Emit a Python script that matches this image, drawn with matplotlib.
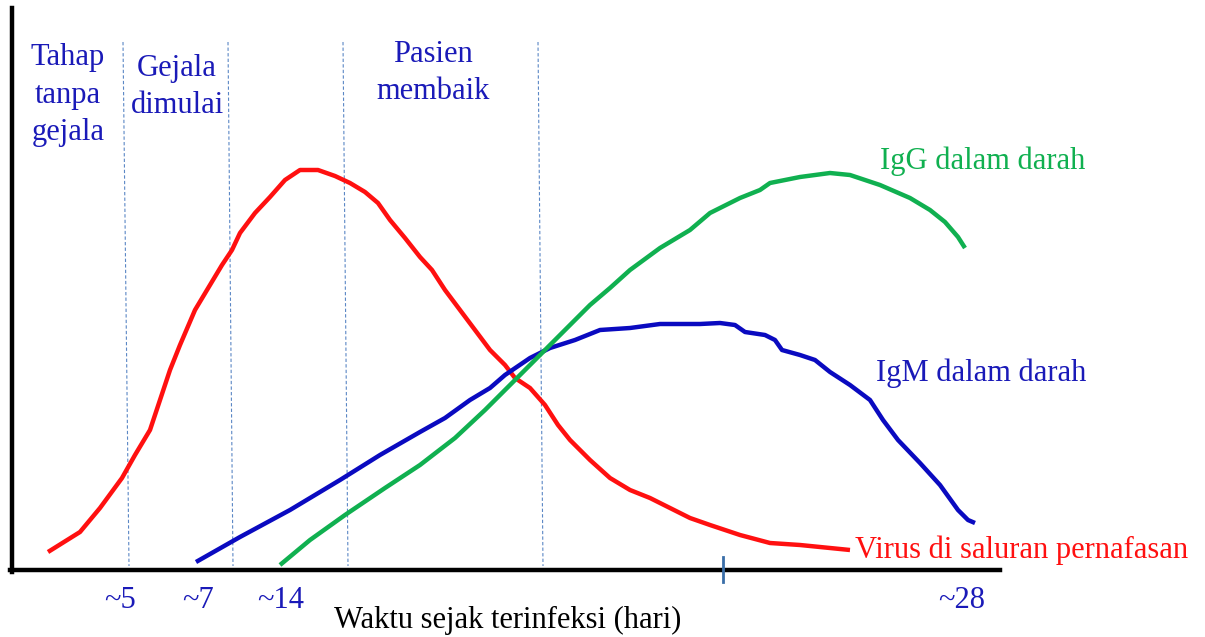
import matplotlib.pyplot as plt

plt.rcParams['font.family'] = ['Liberation Serif', 'DejaVu Serif']

# curves in pixel units (x right, y down)
virus_x = [48, 80, 100, 122, 135, 150, 160, 170, 180, 195, 210, 222, 232, 240, 255, 270, 285, 300,
           318, 335, 350, 365, 378, 390, 405, 420, 432, 445, 460, 475, 490, 505, 515, 530, 545,
           558, 570, 590, 610, 630, 650, 670, 690, 710, 740, 770, 800, 830, 850]
virus_y = [552, 532, 508, 478, 455, 430, 400, 370, 345, 310, 285, 265, 250, 233, 213, 197, 180, 170,
           170, 176, 183, 192, 203, 220, 238, 257, 270, 290, 310, 330, 350, 365, 378, 388, 405,
           425, 440, 460, 478, 490, 498, 508, 518, 525, 535, 543, 545, 548, 550]

igm_x = [196, 240, 290, 340, 380, 420, 445, 470, 490, 505, 530, 550, 575, 600, 630, 660, 700, 720,
         735, 745, 765, 775, 782, 800, 815, 830, 850, 870, 883, 898, 920, 940, 958, 968, 975]
igm_y = [562, 537, 510, 480, 455, 432, 418, 400, 388, 375, 358, 348, 340, 330, 328, 324, 324, 323,
         325, 332, 335, 340, 350, 355, 360, 372, 385, 400, 420, 440, 463, 485, 510, 520, 523]

igg_x = [280, 310, 345, 385, 420, 455, 485, 510, 530, 560, 590, 610, 630, 660, 690, 710, 740, 760,
         770, 800, 830, 850, 880, 910, 930, 945, 958, 965]
igg_y = [565, 540, 515, 488, 465, 438, 410, 385, 365, 335, 305, 288, 270, 248, 230, 213, 198, 190,
         183, 177, 173, 175, 185, 198, 210, 222, 237, 248]

# phase separators (x at top, x at bottom)
sep_top = [123, 228, 343, 538]
sep_bot = [129, 233, 348, 543]

tick_pos = [120, 198, 281, 962]
tick_lab = ['~5', '~7', '~14', '~28']

phase_lab = ['Tahap\ntanpa\ngejala', 'Gejala\ndimulai', 'Pasien\nmembaik']
phase_x = [68, 177, 433]
phase_y = [95, 87, 73]

fig = plt.figure(figsize=(12.05, 6.37), dpi=100)
ax = fig.add_axes([0, 0, 1, 1])
ax.set_xlim(0, 1205)
ax.set_ylim(637, 0)
ax.axis('off')

txt_blue = '#1a1ab8'
fs = 22

for xt, xb in zip(sep_top, sep_bot):
    ax.plot([xt, xb], [42, 566], color='#5b87c5', lw=0.8, ls=(0, (3, 2)))

ax.plot(virus_x, virus_y, color='#ff1010', lw=3.2, solid_capstyle='butt')
ax.plot(igm_x, igm_y, color='#0a0ac0', lw=3.2, solid_capstyle='butt')
ax.plot(igg_x, igg_y, color='#10b050', lw=3.2, solid_capstyle='butt')

# axes
ax.plot([12, 12], [8, 572], color='black', lw=3.2)
ax.plot([10, 1000], [570, 570], color='black', lw=3.2)
ax.plot([723, 723], [557, 582], color='#3a6ea8', lw=2)

for lab, x, y in zip(phase_lab, phase_x, phase_y):
    ax.text(x, y, lab, color=txt_blue, fontsize=fs, ha='center', va='center', linespacing=1.4)

ax.text(880, 161, 'IgG dalam darah', color='#10b050', fontsize=fs, ha='left', va='center')
ax.text(876, 373, 'IgM dalam darah', color=txt_blue, fontsize=fs, ha='left', va='center')
ax.text(855, 550, 'Virus di saluran pernafasan', color='#ff1010', fontsize=fs, ha='left', va='center')

for p, lab in zip(tick_pos, tick_lab):
    ax.text(p, 600, lab, color=txt_blue, fontsize=fs, ha='center', va='center')

ax.text(508, 620, 'Waktu sejak terinfeksi (hari)', color='black', fontsize=fs, ha='center', va='center')

fig.savefig('out.png', dpi=100)
